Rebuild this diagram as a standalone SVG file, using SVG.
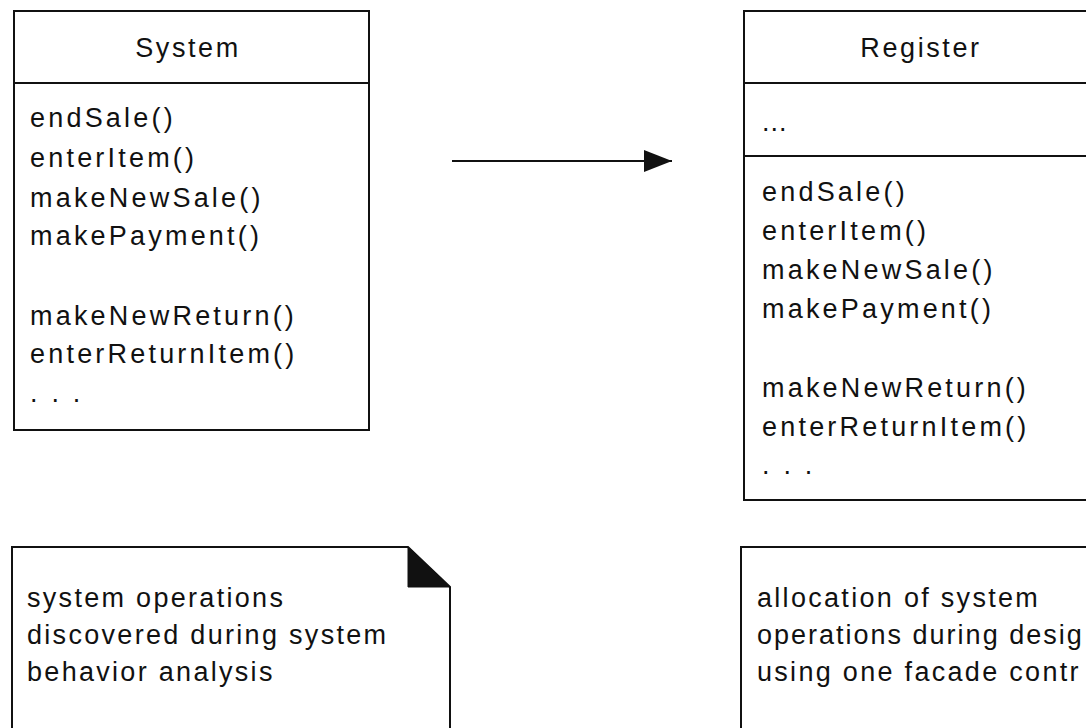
<svg xmlns="http://www.w3.org/2000/svg" width="1086" height="728" viewBox="0 0 1086 728">
  <style>
    .box { fill: #ffffff; stroke: #111111; stroke-width: 2; }
    .div { stroke: #111111; stroke-width: 2; }
    .t { font-family: "Liberation Sans", Arial, sans-serif; font-size: 27px; letter-spacing: 3.2px; fill: #111111; }
    .title { text-anchor: middle; letter-spacing: 2.6px; }
    .n { font-family: "Liberation Sans", Arial, sans-serif; font-size: 27px; letter-spacing: 2.3px; fill: #111111; }
    .conn { stroke: #111111; stroke-width: 2; fill: none; }
  </style>
  <defs>
    <marker id="arrow" markerWidth="30" markerHeight="24" refX="29" refY="12" orient="auto" markerUnits="userSpaceOnUse">
      <path d="M1,1 L29,12 L1,23 Z" fill="#111111"/>
    </marker>
  </defs>
  <rect width="1086" height="728" fill="#ffffff"/>

  <g id="system">
    <rect class="box" x="14" y="11" width="355" height="419"/>
    <line class="div" x1="14" y1="83" x2="369" y2="83"/>
    <text class="t title" x="188" y="57">System</text>
    <text class="t" x="30" y="127">endSale()</text>
    <text class="t" x="30" y="167">enterItem()</text>
    <text class="t" x="30" y="207">makeNewSale()</text>
    <text class="t" x="30" y="245">makePayment()</text>
    <text class="t" x="30" y="325">makeNewReturn()</text>
    <text class="t" x="30" y="363">enterReturnItem()</text>
    <text class="t" x="30" y="402">. . .</text>
  </g>

  <g id="register">
    <rect class="box" x="744" y="11" width="353" height="489"/>
    <line class="div" x1="744" y1="83" x2="1097" y2="83"/>
    <line class="div" x1="744" y1="156" x2="1097" y2="156"/>
    <text class="t title" x="921" y="57">Register</text>
    <text class="t" x="762" y="131" style="letter-spacing:1px">...</text>
    <text class="t" x="762" y="201">endSale()</text>
    <text class="t" x="762" y="240">enterItem()</text>
    <text class="t" x="762" y="279">makeNewSale()</text>
    <text class="t" x="762" y="318">makePayment()</text>
    <text class="t" x="762" y="397">makeNewReturn()</text>
    <text class="t" x="762" y="436">enterReturnItem()</text>
    <text class="t" x="762" y="474">. . .</text>
  </g>

  <g id="note-system">
    <path class="box" d="M12,740 L12,547 L408,547 L450,587 L450,740"/>
    <path d="M408,547 L450,587 L408,587 Z" fill="#111111" stroke="#111111" stroke-width="1"/>
    <text class="n" x="27" y="607">system operations</text>
    <text class="n" x="27" y="644">discovered during system</text>
    <text class="n" x="27" y="681">behavior analysis</text>
  </g>

  <g id="note-register">
    <path class="box" d="M741,740 L741,547 L1100,547"/>
    <text class="n" x="757" y="607">allocation of system</text>
    <text class="n" x="757" y="644" style="letter-spacing:2px">operations during desig</text>
    <text class="n" x="757" y="681">using one facade contr</text>
  </g>

  <g id="connectors">
    <line class="conn" x1="452" y1="161" x2="672" y2="161" marker-end="url(#arrow)"/>
  </g>
</svg>
